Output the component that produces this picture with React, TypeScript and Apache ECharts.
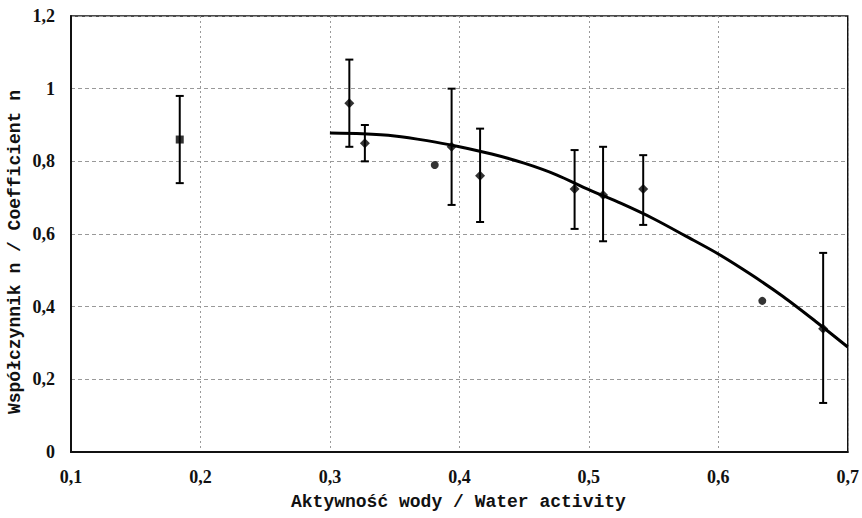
import React, { useEffect, useRef } from "react";
import * as echarts from "echarts";

const pointX = [0.184, 0.315, 0.327, 0.381, 0.394, 0.416, 0.489, 0.511, 0.542, 0.634, 0.681];
const pointY = [0.86, 0.96, 0.85, 0.79, 0.84, 0.76, 0.724, 0.707, 0.724, 0.416, 0.339];
const errLow = [0.74, 0.84, 0.80, null, 0.68, 0.633, 0.614, 0.58, 0.625, null, 0.135];
const errHigh = [0.98, 1.08, 0.90, null, 1.00, 0.89, 0.831, 0.84, 0.817, null, 0.548];
const markerShapes = ["rect", "diamond", "diamond", "circle", "diamond", "diamond", "diamond", "diamond", "diamond", "circle", "diamond"];

const curveX = [0.3, 0.325, 0.35, 0.375, 0.4, 0.425, 0.45, 0.475, 0.5, 0.525, 0.55, 0.575, 0.6, 0.625, 0.65, 0.675, 0.7];
const curveY = [0.878, 0.876, 0.870, 0.857, 0.840, 0.820, 0.795, 0.763, 0.722, 0.684, 0.642, 0.594, 0.545, 0.489, 0.428, 0.36, 0.289];

const xTitle = "Aktywność wody / Water activity";
const yTitle = "Współczynnik n / Coefficient n";

const fmt = (v: number) => String(Math.round(v * 10) / 10).replace(".", ",");

export default function App() {
  const ref = useRef<HTMLDivElement>(null);
  useEffect(() => {
    if (!ref.current) return;
    const chart = echarts.init(ref.current, undefined, { renderer: "svg" });
    const errData = pointX
      .map((x, i) => [x, errLow[i], errHigh[i]])
      .filter((d) => d[1] !== null);
    const titleFont = { fontFamily: "Liberation Mono", fontWeight: "bold", fontSize: 18, fill: "#111" };
    const labelStyle = {
      formatter: fmt,
      fontFamily: "Liberation Serif",
      fontWeight: "bold",
      fontSize: 18,
      color: "#111",
      margin: 16,
    };
    chart.setOption({
      animation: false,
      backgroundColor: "#fff",
      grid: { left: 71, right: 14, top: 16, bottom: 66, show: true, borderColor: "#111", borderWidth: 1.5 },
      graphic: [
        {
          type: "text",
          left: 453 - 162,
          top: 493,
          style: { text: xTitle, ...titleFont },
        },
        {
          type: "text",
          x: 6,
          y: 252,
          rotation: Math.PI / 2,
          style: { text: yTitle, ...titleFont, align: "center", verticalAlign: "top" },
        },
      ],
      xAxis: {
        type: "value",
        min: 0.1,
        max: 0.7,
        interval: 0.1,
        axisLine: { show: true, lineStyle: { color: "#111", width: 2 } },
        axisTick: { show: false },
        axisLabel: labelStyle,
        splitLine: { show: true, lineStyle: { color: "#999", type: [2, 3], width: 1 } },
      },
      yAxis: {
        type: "value",
        min: 0,
        max: 1.2,
        interval: 0.2,
        axisLine: { show: true, lineStyle: { color: "#111", width: 2 } },
        axisTick: { show: false },
        axisLabel: labelStyle,
        splitLine: { show: true, lineStyle: { color: "#999", type: [4, 3], width: 1 } },
      },
      series: [
        {
          type: "line",
          data: curveX.map((x, i) => [x, curveY[i]]),
          smooth: 0.3,
          showSymbol: false,
          lineStyle: { color: "#000", width: 3 },
          z: 3,
        },
        {
          type: "custom",
          data: errData,
          renderItem: (params: any, api: any) => {
            const x = api.value(0);
            const lo = api.coord([x, api.value(1)]);
            const hi = api.coord([x, api.value(2)]);
            const w = 4;
            const style = { stroke: "#000", lineWidth: 2 };
            return {
              type: "group",
              children: [
                { type: "line", shape: { x1: lo[0], y1: lo[1], x2: hi[0], y2: hi[1] }, style },
                { type: "line", shape: { x1: lo[0] - w, y1: lo[1], x2: lo[0] + w, y2: lo[1] }, style },
                { type: "line", shape: { x1: hi[0] - w, y1: hi[1], x2: hi[0] + w, y2: hi[1] }, style },
              ],
            };
          },
          z: 4,
        },
        {
          type: "scatter",
          data: pointX.map((x, i) => ({
            value: [x, pointY[i]],
            symbol: markerShapes[i],
            symbolSize: markerShapes[i] === "diamond" ? 10 : 8,
          })),
          itemStyle: { color: "#000" },
          z: 5,
        },
      ],
    });
    return () => chart.dispose();
  }, []);
  return <div ref={ref} style={{ position: "fixed", left: 0, top: 0, width: 862, height: 518 }} />;
}
